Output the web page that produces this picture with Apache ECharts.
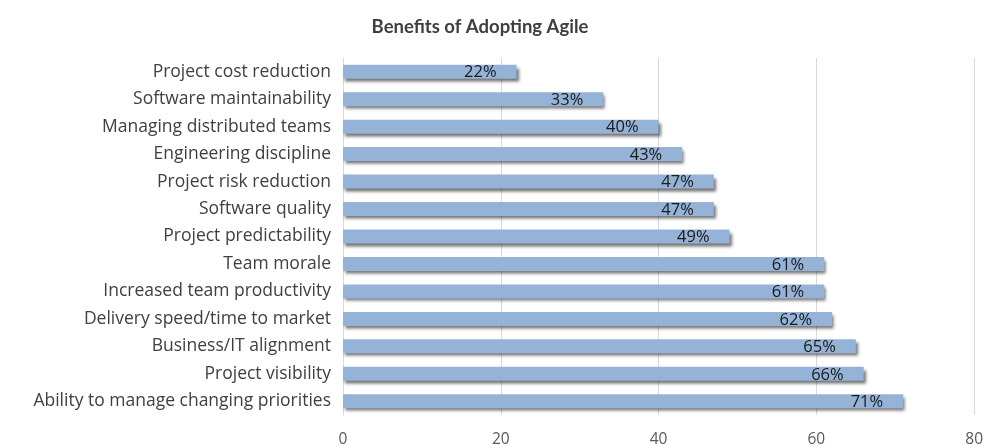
<!DOCTYPE html>
<html>
<head>
<meta charset="utf-8">
<script src="https://cdn.jsdelivr.net/npm/echarts@6/dist/echarts.min.js"></script>
<style>
  html, body { margin: 0; padding: 0; background: #fff; }
  #chart { width: 986px; height: 448px; }
</style>
</head>
<body>
<div id="chart"></div>
<script>
// categories, bottom to top (ECharts category axis draws first item at the bottom)
const benefits = [
  'Ability to manage changing priorities',
  'Project visibility',
  'Business/IT alignment',
  'Delivery speed/time to market',
  'Increased team productivity',
  'Team morale',
  'Project predictability',
  'Software quality',
  'Project risk reduction',
  'Engineering discipline',
  'Managing distributed teams',
  'Software maintainability',
  'Project cost reduction'
];
const percents = [71, 66, 65, 62, 61, 61, 49, 47, 47, 43, 40, 33, 22];
const xTicks = [0, 20, 40, 60, 80];

const chart = echarts.init(document.getElementById('chart'));
const font = '"Open Sans", "DejaVu Sans", sans-serif';

chart.setOption({
  animation: false,
  title: {
    text: 'Benefits of Adopting Agile',
    left: 475,
    textAlign: 'center',
    top: 13,
    textStyle: { fontFamily: 'Lato, "Open Sans", sans-serif', fontSize: 18.5, fontWeight: 'bold', color: '#3f3f3f' }
  },
  grid: { left: 343, right: 11, top: 58, bottom: 33 },
  xAxis: {
    type: 'value',
    min: xTicks[0],
    max: xTicks[xTicks.length - 1],
    interval: 20,
    axisLine: { show: false },
    axisTick: { show: false },
    axisLabel: { color: '#595959', fontFamily: font, fontSize: 15.5, margin: 17 },
    splitLine: { lineStyle: { color: '#d9d9d9', width: 1 } }
  },
  yAxis: {
    type: 'category',
    data: benefits,
    axisLine: { show: true, lineStyle: { color: '#d9d9d9' } },
    axisTick: { show: false },
    axisLabel: { color: '#404040', fontFamily: font, fontSize: 17.5, margin: 12 }
  },
  series: [{
    type: 'bar',
    data: percents,
    barWidth: 14,
    itemStyle: {
      color: '#95b3d7',
      shadowColor: 'rgba(0,0,0,0.55)',
      shadowBlur: 3,
      shadowOffsetX: 2,
      shadowOffsetY: 3
    },
    label: {
      show: true,
      position: 'insideRight',
      distance: 20,
      offset: [0, 1],
      formatter: '{c}%',
      color: '#1a1a1a',
      fontFamily: font,
      fontSize: 16.5
    }
  }]
});
</script>
</body>
</html>
